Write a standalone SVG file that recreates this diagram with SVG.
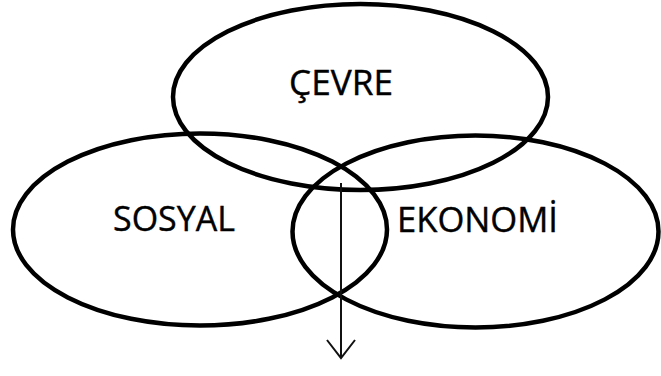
<svg xmlns="http://www.w3.org/2000/svg" width="661" height="376" viewBox="0 0 661 376">
<style>
.c{fill:none;stroke:#000;stroke-width:4.5}
.t{font-family:"Open Sans","Liberation Sans",sans-serif;font-size:35px;fill:#000;stroke:#000;stroke-width:0.4}
.a{fill:none;stroke:#111;stroke-width:2}
</style>
<rect width="661" height="376" fill="#fff"/>
<g id="cevre"><ellipse class="c" cx="360.5" cy="97" rx="187.5" ry="93"/><text class="t" x="289" y="95" textLength="104" lengthAdjust="spacingAndGlyphs">ÇEVRE</text></g>
<g id="sosyal"><ellipse class="c" cx="200" cy="229.5" rx="187" ry="96"/><text class="t" x="113" y="231" textLength="122" lengthAdjust="spacingAndGlyphs">SOSYAL</text></g>
<g id="ekonomi"><ellipse class="c" cx="475.5" cy="231.5" rx="183" ry="96"/><text class="t" x="397" y="232" textLength="161" lengthAdjust="spacingAndGlyphs">EKONOMİ</text></g>
<g id="connectors"><line class="a" x1="341" y1="183" x2="341" y2="357"/><polyline class="a" points="327,340 341,358 355,340"/></g>
</svg>
